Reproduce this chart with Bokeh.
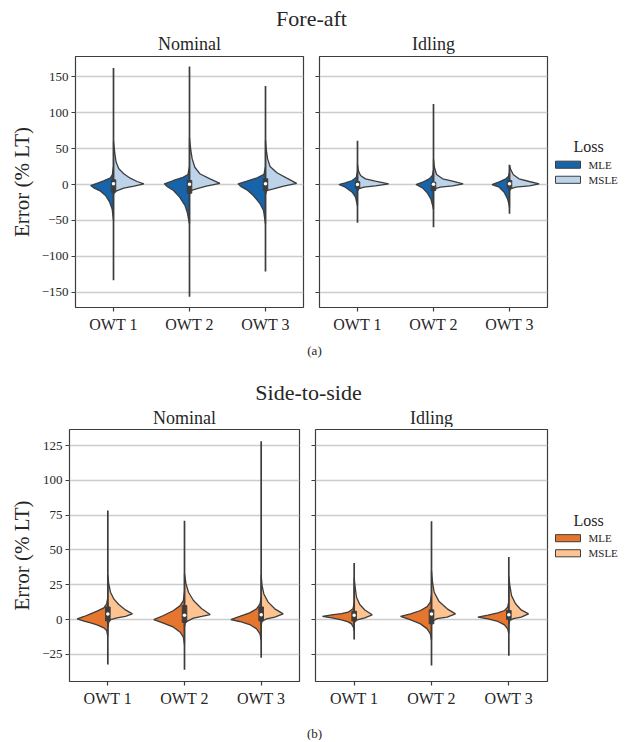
from bokeh.plotting import figure
from bokeh.models import Range1d, FixedTicker
from bokeh.layouts import column, row
from bokeh.embed import file_html
from bokeh.resources import INLINE
from bokeh.core.properties import value

# ---------------- data ----------------
CATEGORIES = ["OWT 1", "OWT 2", "OWT 3"]
LOSSES = ["MLE", "MSLE"]
LEGEND_TITLE = "Loss"
FA_YTICKS = [-150, -100, -50, 0, 50, 100, 150]
FA_YLABELS = ["\u2212150", "\u2212100", "\u221250", "0", "50", "100", "150"]
SS_YTICKS = [-25, 0, 25, 50, 75, 100, 125]
SS_YLABELS = ["\u221225", "0", "25", "50", "75", "100", "125"]

# Fore-aft, Nominal
FA_NOM_MIN = [-133, -156, -121]
FA_NOM_MAX = [162, 164, 137]
FA_NOM_Q1 = [-10.7, -12, -8.4]
FA_NOM_Q3 = [6.5, 5.6, 7.9]
FA_NOM_MED = [1, 0.5, 1]
FA_NOM_MLE_V = [[-50, -34, -24.6, -15.3, -9.3, -4.6, -1.4, 1.8, 5, 9.3, 14, 25],
                [-55, -38.5, -29, -17.6, -8.4, -3, 1, 5.6, 10, 14, 25],
                [-55, -36, -27, -15.3, -7.4, -3, 1, 4.7, 9.3, 14, 25]]
FA_NOM_MLE_W = [[0, 0.018, 0.05, 0.105, 0.17, 0.26, 0.30, 0.21, 0.13, 0.04, 0.015, 0],
                [0, 0.03, 0.06, 0.13, 0.21, 0.29, 0.33, 0.21, 0.085, 0.02, 0],
                [0, 0.026, 0.07, 0.16, 0.245, 0.32, 0.36, 0.245, 0.11, 0.02, 0]]
FA_NOM_MSLE_V = [[-14, -10, -8.4, -5, -2.3, 1, 4.2, 8.8, 15, 22, 31, 43, 60],
                 [-14, -8.4, -6, -2.3, 1.5, 7.9, 15, 24, 36, 47, 65],
                 [-14, -8.4, -6, -2.3, 1.5, 8.8, 16.3, 25, 36, 47, 62]]
FA_NOM_MSLE_W = [[0, 0.015, 0.05, 0.135, 0.27, 0.40, 0.31, 0.22, 0.135, 0.07, 0.035, 0.018, 0],
                 [0, 0.015, 0.09, 0.22, 0.40, 0.27, 0.135, 0.07, 0.035, 0.018, 0],
                 [0, 0.015, 0.105, 0.24, 0.41, 0.28, 0.15, 0.06, 0.027, 0.012, 0]]

# Fore-aft, Idling
FA_IDL_MIN = [-53, -59.5, -40.7]
FA_IDL_MAX = [61, 112, 27.5]
FA_IDL_Q1 = [-5, -8.4, -5]
FA_IDL_Q3 = [4, 3.2, 5.6]
FA_IDL_MED = [0, 0.5, 1]
FA_IDL_MLE_V = [[-30, -17.6, -10.7, -3.7, 0, 2.3, 5.6, 10, 18],
                [-35, -29, -20, -12, -4.6, 0, 3.2, 7.9, 12.5, 20],
                [-32, -26, -20, -10.7, -3.7, 0, 3.7, 7.9, 11, 17]]
FA_IDL_MLE_W = [[0, 0.026, 0.07, 0.16, 0.245, 0.16, 0.07, 0.015, 0],
                [0, 0.012, 0.035, 0.08, 0.145, 0.23, 0.145, 0.057, 0.015, 0],
                [0, 0.01, 0.026, 0.07, 0.135, 0.23, 0.135, 0.048, 0.015, 0]]
FA_IDL_MSLE_V = [[-9, -6, -3.7, -1.9, 0.9, 4.7, 7.9, 12.5, 19, 28],
                 [-9, -6, -3.7, -1.9, 0.9, 4.7, 7.9, 13.9, 24, 35],
                 [-9, -6, -3.7, -1.9, 0.9, 4.2, 7.9, 13.9, 21.8, 27]]
FA_IDL_MSLE_W = [[0, 0.015, 0.085, 0.235, 0.41, 0.235, 0.105, 0.04, 0.012, 0],
                 [0, 0.015, 0.09, 0.25, 0.39, 0.25, 0.12, 0.04, 0.012, 0],
                 [0, 0.015, 0.08, 0.26, 0.39, 0.26, 0.125, 0.048, 0.012, 0]]

# Side-to-side, Nominal
SS_NOM_MIN = [-32.3, -36, -27.5]
SS_NOM_MAX = [78.3, 71, 128]
SS_NOM_Q1 = [-1, -2, -1]
SS_NOM_Q3 = [9, 10, 9]
SS_NOM_MED = [4, 3, 3.5]
SS_NOM_MLE_V = [[-12, -7.9, -6, -3.8, -2.4, -1.2, 0.5, 2.2, 4.1, 6, 8.4, 11.3, 16],
                [-18, -12.7, -9.1, -5.5, -2.6, 0, 2.9, 6.5, 10, 13.7, 20],
                [-15, -10.3, -6.7, -3.6, -1.4, 0, 2.2, 4.8, 7.7, 11.3, 16]]
SS_NOM_MLE_W = [[0, 0.015, 0.052, 0.14, 0.225, 0.31, 0.40, 0.31, 0.225, 0.14, 0.052, 0.015, 0],
                [0, 0.015, 0.056, 0.143, 0.275, 0.40, 0.275, 0.143, 0.056, 0.015, 0],
                [0, 0.015, 0.06, 0.15, 0.28, 0.395, 0.28, 0.15, 0.06, 0.015, 0]]
SS_NOM_MSLE_V = [[-5, -1.9, 0, 1.2, 2.2, 4.1, 6.9, 10.8, 14.8, 19.6, 25.6, 32],
                 [-5, -1.9, 1, 2.2, 3.6, 7.7, 13.7, 19.6, 25.6, 33],
                 [-4, -1.2, 0.5, 1.7, 4.1, 7.7, 12.5, 18.4, 24.4, 32]]
SS_NOM_MSLE_W = [[0, 0.012, 0.035, 0.12, 0.23, 0.32, 0.23, 0.143, 0.078, 0.035, 0.012, 0],
                 [0, 0.012, 0.117, 0.225, 0.335, 0.225, 0.117, 0.052, 0.02, 0],
                 [0, 0.012, 0.07, 0.178, 0.287, 0.178, 0.091, 0.035, 0.012, 0]]

# Side-to-side, Idling
SS_IDL_MIN = [-14.4, -33, -26]
SS_IDL_MAX = [40.7, 70.6, 45]
SS_IDL_Q1 = [-1, -3, 0]
SS_IDL_Q3 = [6, 7, 6.5]
SS_IDL_MED = [3, 4, 3.5]
SS_IDL_MLE_V = [[-8, -5.5, -3.1, -1.7, -0.2, 1.2, 2.2, 3.4, 4.3, 5.3, 7.7, 12],
                [-15, -10.3, -6.7, -3.1, -0.2, 2.2, 4.1, 6.5, 9.3, 12.5, 18],
                [-10, -6.7, -3.8, -1.4, 0.5, 1.7, 3.1, 4.8, 6.5, 8.9, 13]]
SS_IDL_MLE_W = [[0, 0.01, 0.035, 0.078, 0.164, 0.29, 0.41, 0.29, 0.164, 0.078, 0.015, 0],
                [0, 0.015, 0.056, 0.142, 0.27, 0.40, 0.27, 0.142, 0.056, 0.015, 0],
                [0, 0.015, 0.056, 0.142, 0.27, 0.40, 0.27, 0.142, 0.056, 0.015, 0]]
SS_IDL_MSLE_V = [[-3, -1.2, 0, 1.2, 3.4, 6.9, 10.8, 16, 23.2, 30],
                 [-4, -1.2, 0.7, 1.7, 4.1, 7.7, 13.2, 19.6, 26.8, 35],
                 [-3, -0.7, 0.7, 1.7, 4.1, 6.9, 11.3, 17.2, 24.4, 31]]
SS_IDL_MSLE_W = [[0, 0.012, 0.05, 0.138, 0.233, 0.138, 0.073, 0.03, 0.013, 0],
                 [0, 0.012, 0.07, 0.203, 0.31, 0.203, 0.095, 0.035, 0.013, 0],
                 [0, 0.012, 0.06, 0.16, 0.255, 0.16, 0.087, 0.035, 0.013, 0]]

# ---------------- style / layout ----------------
FONT = "Liberation Serif"
INK = "#262626"
EDGE = "#3d3d3d"
GRID = "#cccccc"
BLUE = ["#1864aa", "#bcd3ea"]
ORANGE = ["#e6762d", "#fdc391"]
FIG_W = 632
GAP = 8           # border on each side of the gap between panels
LEG_W = 83        # legend column
A_LEFT, A_FRAME_W, A_FRAME_H = 75, 228, 251
B_LEFT, B_FRAME_W1, B_FRAME_W2, B_FRAME_H = 69, 230, 232, 252
TOP_B, BOT_B = 2, 30
HEAD_A, HEAD_B, FOOT = 54, 90, 29


def make_panel(frame_w, frame_h, left, right, yrange, yticks, ylabels, ylabel=None):
    p = figure(frame_width=frame_w, frame_height=frame_h, title=None,
               x_range=Range1d(-0.5, len(CATEGORIES) - 0.5), y_range=Range1d(*yrange),
               min_border_left=left, min_border_right=right,
               min_border_top=TOP_B, min_border_bottom=BOT_B,
               toolbar_location=None, output_backend="svg",
               background_fill_color="white", border_fill_color="white")
    p.outline_line_color = EDGE
    p.outline_line_width = 1.2
    p.xgrid.visible = False
    p.ygrid.grid_line_color = GRID
    p.ygrid.grid_line_width = 1.3
    p.xaxis.ticker = FixedTicker(ticks=list(range(len(CATEGORIES))))
    p.xaxis.major_label_overrides = {i: c for i, c in enumerate(CATEGORIES)}
    p.yaxis.ticker = FixedTicker(ticks=yticks)
    p.yaxis.major_label_overrides = dict(zip(yticks, ylabels))
    for ax in p.axis:
        ax.axis_line_color = None
        ax.major_tick_in = 0
        ax.major_tick_out = 4
        ax.minor_tick_in = 0
        ax.minor_tick_out = 0
        ax.major_tick_line_color = EDGE
        ax.major_tick_line_width = 1.2
        ax.major_label_text_font = FONT
        ax.major_label_text_color = INK
    p.xaxis.major_label_text_font_size = "16px"
    p.xaxis.major_label_standoff = 4
    p.yaxis.major_label_text_font_size = "13px"
    p.yaxis.major_label_standoff = 3
    if ylabel:
        p.yaxis.axis_label = ylabel
        p.yaxis.axis_label_text_font = FONT
        p.yaxis.axis_label_text_font_size = "21px"
        p.yaxis.axis_label_text_font_style = "normal"
        p.yaxis.axis_label_text_color = INK
        p.yaxis.axis_label_standoff = 5
    return p


def draw_violins(p, vmin, vmax, q1, q3, med, mle_v, mle_w, msle_v, msle_w, colors):
    xs_l = [[i - w for w in W] for i, W in enumerate(mle_w)]
    xs_r = [[i + w for w in W] for i, W in enumerate(msle_w)]
    p.patches(xs=xs_l, ys=mle_v, fill_color=colors[0], line_color=EDGE, line_width=1.3)
    p.patches(xs=xs_r, ys=msle_v, fill_color=colors[1], line_color=EDGE, line_width=1.3)
    centers = list(range(len(CATEGORIES)))
    p.segment(x0=centers, y0=vmin, x1=centers, y1=vmax, line_color=EDGE, line_width=1.7)
    p.vbar(x=centers, bottom=q1, top=q3, width=0.06, fill_color=EDGE, line_color=EDGE)
    p.scatter(x=centers, y=med, size=3.5, fill_color="white", line_color=None)


def blank_strip(w, h):
    p = figure(width=w, height=h, title=None,
               x_range=Range1d(0, w), y_range=Range1d(h, 0),
               min_border_left=0, min_border_right=0, min_border_top=0, min_border_bottom=0,
               x_axis_type=None, y_axis_type=None,
               toolbar_location=None, output_backend="svg", outline_line_color=None)
    return p


def text_strip(h, items):
    p = blank_strip(FIG_W, h)
    for txt, x, y, size in items:
        p.text(x=[x], y=[y], text=[txt], text_font=value(FONT), text_font_size=size,
               text_align="center", text_baseline="middle", text_color=INK)
    return p


def legend_strip(h, frame_mid, colors):
    # key swatches + labels, placed relative to the panel's vertical centre
    p = blank_strip(LEG_W, h)
    title_y = frame_mid - 25.5
    item_y = [frame_mid - 5.5, frame_mid + 11.5]
    p.text(x=[39], y=[title_y], text=[LEGEND_TITLE], text_font=value(FONT),
           text_font_size="16px", text_align="center", text_baseline="middle", text_color=INK)
    p.quad(left=[6, 6], right=[31, 31], top=[y - 4 for y in item_y], bottom=[y + 4 for y in item_y],
           fill_color=colors, line_color=EDGE, line_width=1)
    p.text(x=[39, 39], y=item_y, text=LOSSES, text_font=value(FONT), text_font_size="11px",
           text_align="left", text_baseline="middle", text_color=INK)
    return p


# ---- row (a): Fore-aft ----
FA_YR = (-171, 178)
fa_nom = make_panel(A_FRAME_W, A_FRAME_H, A_LEFT, GAP, FA_YR, FA_YTICKS, FA_YLABELS, "Error (% LT)")
draw_violins(fa_nom, FA_NOM_MIN, FA_NOM_MAX, FA_NOM_Q1, FA_NOM_Q3, FA_NOM_MED,
             FA_NOM_MLE_V, FA_NOM_MLE_W, FA_NOM_MSLE_V, FA_NOM_MSLE_W, BLUE)
fa_idl = make_panel(A_FRAME_W, A_FRAME_H, GAP, 2, FA_YR, FA_YTICKS, [""] * len(FA_YTICKS))
draw_violins(fa_idl, FA_IDL_MIN, FA_IDL_MAX, FA_IDL_Q1, FA_IDL_Q3, FA_IDL_MED,
             FA_IDL_MLE_V, FA_IDL_MLE_W, FA_IDL_MSLE_V, FA_IDL_MSLE_W, BLUE)
fa_leg = legend_strip(TOP_B + A_FRAME_H + BOT_B, TOP_B + A_FRAME_H / 2, BLUE)

# ---- row (b): Side-to-side ----
SS_YR = (-44.5, 136.5)
ss_nom = make_panel(B_FRAME_W1, B_FRAME_H, B_LEFT, GAP, SS_YR, SS_YTICKS, SS_YLABELS, "Error (% LT)")
draw_violins(ss_nom, SS_NOM_MIN, SS_NOM_MAX, SS_NOM_Q1, SS_NOM_Q3, SS_NOM_MED,
             SS_NOM_MLE_V, SS_NOM_MLE_W, SS_NOM_MSLE_V, SS_NOM_MSLE_W, ORANGE)
ss_idl = make_panel(B_FRAME_W2, B_FRAME_H, GAP, 2, SS_YR, SS_YTICKS, [""] * len(SS_YTICKS))
draw_violins(ss_idl, SS_IDL_MIN, SS_IDL_MAX, SS_IDL_Q1, SS_IDL_Q3, SS_IDL_MED,
             SS_IDL_MLE_V, SS_IDL_MLE_W, SS_IDL_MSLE_V, SS_IDL_MSLE_W, ORANGE)
ss_leg = legend_strip(TOP_B + B_FRAME_H + BOT_B, TOP_B + B_FRAME_H / 2, ORANGE)

# ---- headers (positions follow the panel layout) ----
a_nom_c = A_LEFT + A_FRAME_W / 2
a_idl_c = A_LEFT + A_FRAME_W + 2 * GAP + A_FRAME_W / 2
a_mid = (A_LEFT + A_LEFT + 2 * A_FRAME_W + 2 * GAP) / 2
b_nom_c = B_LEFT + B_FRAME_W1 / 2
b_idl_c = B_LEFT + B_FRAME_W1 + 2 * GAP + B_FRAME_W2 / 2
b_mid = (B_LEFT + B_LEFT + B_FRAME_W1 + B_FRAME_W2 + 2 * GAP) / 2
cap_c = 314

head_a = text_strip(HEAD_A, [("Fore-aft", a_mid, 18, "22px"),
                             ("Nominal", a_nom_c, 43, "18px"),
                             ("Idling", a_idl_c, 43, "18px")])
head_b = text_strip(HEAD_B, [("(a)", cap_c, 13, "13px"),
                             ("Side-to-side", b_mid, 55, "22px"),
                             ("Nominal", b_nom_c, 80, "18px"),
                             ("Idling", b_idl_c, 80, "18px")])
foot = text_strip(FOOT, [("(b)", cap_c, 22, "13px")])

layout = column(head_a, row(fa_nom, fa_idl, fa_leg), head_b, row(ss_nom, ss_idl, ss_leg), foot)

open("out.html", "w").write(file_html(layout, INLINE))
